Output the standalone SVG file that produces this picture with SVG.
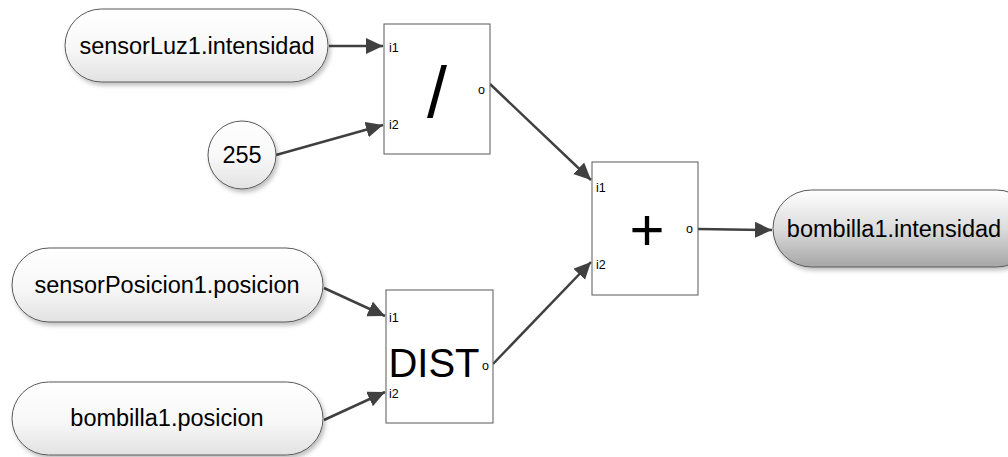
<svg xmlns="http://www.w3.org/2000/svg" width="1008" height="457" viewBox="0 0 1008 457">
  <style>
    .pill { fill: url(#pillFill); stroke: #595959; stroke-width: 1; filter: url(#shadow); }
    .pill-out { fill: url(#pillOutFill); stroke: #595959; stroke-width: 1; filter: url(#shadow); }
    .block { fill: #ffffff; stroke: #595959; stroke-width: 1; }
    .label { font-family: "Liberation Sans", Arial, sans-serif; font-size: 23.5px; fill: #000; text-anchor: middle; dominant-baseline: central; }
    .port { font-family: "Liberation Sans", Arial, sans-serif; font-size: 12.5px; fill: #000; dominant-baseline: central; }
    .op { font-family: "Liberation Sans", Arial, sans-serif; fill: #000; text-anchor: middle; }
    .wire { fill: none; stroke: #404040; stroke-width: 2.5; marker-end: url(#arrow); }
  </style>
  <defs>
    <linearGradient id="pillFill" x1="0" y1="0" x2="0" y2="1">
      <stop offset="0" stop-color="#ffffff"/>
      <stop offset="0.55" stop-color="#f7f7f7"/>
      <stop offset="1" stop-color="#e2e2e2"/>
    </linearGradient>
    <linearGradient id="pillOutFill" x1="0" y1="0" x2="0" y2="1">
      <stop offset="0" stop-color="#ffffff"/>
      <stop offset="0.5" stop-color="#dcdcdc"/>
      <stop offset="1" stop-color="#a6a6a6"/>
    </linearGradient>
    <filter id="shadow" x="-10%" y="-10%" width="125%" height="135%">
      <feDropShadow dx="2" dy="3" stdDeviation="2" flood-color="#000" flood-opacity="0.25"/>
    </filter>
    <marker id="arrow" markerUnits="userSpaceOnUse" markerWidth="20" markerHeight="18" refX="17" refY="8" orient="auto">
      <path d="M0,0 L17,8 L0,16 Z" fill="#404040"/>
    </marker>
  </defs>

  <rect width="1008" height="457" fill="#ffffff"/>

  <!-- connectors -->
  <g id="connectors">
    <line class="wire" x1="329" y1="46" x2="383" y2="46"/>
    <line class="wire" x1="276" y1="155" x2="383" y2="125"/>
    <line class="wire" x1="490" y1="84" x2="591" y2="180"/>
    <line class="wire" x1="324" y1="288" x2="385" y2="316"/>
    <line class="wire" x1="324" y1="420" x2="385" y2="392"/>
    <line class="wire" x1="493" y1="364" x2="591" y2="262"/>
    <line class="wire" x1="698" y1="229" x2="772" y2="230"/>
  </g>

  <!-- source: light sensor -->
  <g id="sensorLuz1">
    <rect class="pill" x="65" y="9" width="263" height="73" rx="36.5" ry="36.5"/>
    <text class="label" x="197" y="46">sensorLuz1.intensidad</text>
  </g>

  <!-- constant -->
  <g id="const255">
    <circle class="pill" cx="242" cy="155" r="34"/>
    <text class="label" x="242" y="155">255</text>
  </g>

  <!-- position sensor -->
  <g id="sensorPosicion1">
    <rect class="pill" x="12" y="248" width="311" height="74" rx="37" ry="37"/>
    <text class="label" x="167" y="285">sensorPosicion1.posicion</text>
  </g>

  <!-- lamp position -->
  <g id="bombillaPosicion">
    <rect class="pill" x="12" y="382" width="311" height="73" rx="36.5" ry="36.5"/>
    <text class="label" x="167" y="418">bombilla1.posicion</text>
  </g>

  <!-- division block -->
  <g id="div">
    <rect class="block" x="384" y="24" width="106" height="130"/>
    <text class="port" x="389" y="48">i1</text>
    <text class="port" x="389" y="125">i2</text>
    <text class="port" x="478" y="90">o</text>
    <text class="op" x="437" y="117" font-size="72">/</text>
  </g>

  <!-- distance block -->
  <g id="dist">
    <rect class="block" x="386" y="290" width="107" height="133"/>
    <text class="port" x="389" y="318">i1</text>
    <text class="port" x="389" y="394">i2</text>
    <text class="port" x="482" y="366">o</text>
    <text class="op" x="434" y="377" font-size="40">DIST</text>
  </g>

  <!-- sum block -->
  <g id="sum">
    <rect class="block" x="592" y="162" width="106" height="133"/>
    <text class="port" x="596" y="188">i1</text>
    <text class="port" x="596" y="265">i2</text>
    <text class="port" x="686" y="229">o</text>
    <text class="op" x="647" y="250" font-size="60">+</text>
  </g>

  <!-- output: lamp intensity -->
  <g id="bombillaIntensidad">
    <rect class="pill-out" x="773" y="190" width="262" height="77" rx="38.5" ry="38.5"/>
    <text class="label" x="894" y="229">bombilla1.intensidad</text>
  </g>
</svg>
